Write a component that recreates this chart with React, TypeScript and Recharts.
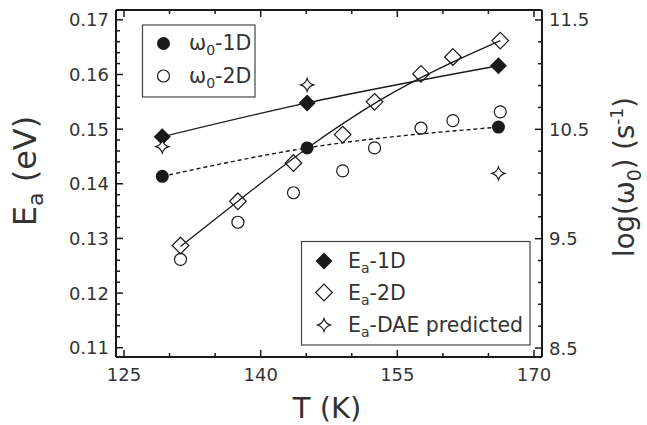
import React from 'react'
import { ComposedChart, Line, XAxis, YAxis, Customized } from 'recharts'

// temperatures (K)
const temps1D = [129.2, 145.1, 166.1]
const temps2D = [131.2, 137.5, 143.6, 149.0, 152.5, 157.6, 161.1, 166.3]
// Ea (eV)
const ea1D = [0.1486, 0.1548, 0.1616]
const ea2D = [0.1287, 0.1368, 0.1438, 0.149, 0.155, 0.1601, 0.1632, 0.1662]
const eaDAE = [0.1468, 0.1581, 0.1419]
// log(w0) (s^-1)
const w1D = [10.07, 10.33, 10.52]
const w2D = [9.31, 9.65, 9.92, 10.12, 10.33, 10.51, 10.58, 10.66]
// fit curve through the 2D activation energies
const fitTemps2D = [131.2, 137.5, 145.1, 153.1, 166.3]
const fitEa2D = [0.1285, 0.1368, 0.1465, 0.1553, 0.1662]

// axis ticks
const xTicks = [125, 130, 135, 140, 145, 150, 155, 160, 165, 170]
const xLabels = [125, 140, 155, 170]
const eaTicks = Array.from({ length: 31 }, (_, i) => +(0.11 + i * 0.002).toFixed(3))
const wTicks = Array.from({ length: 16 }, (_, i) => +(8.5 + i * 0.2).toFixed(1))
const wLabels = ['8.5', '9.5', '10.5', '11.5']

const rows1D = temps1D.map((T, i) => ({ T, ea: ea1D[i], w: w1D[i], dae: eaDAE[i] }))
const rows2D = temps2D.map((T, i) => ({ T, ea: ea2D[i], w: w2D[i] }))
const rowsFit2D = fitTemps2D.map((T, i) => ({ T, ea: fitEa2D[i] }))

const FONT = 'DejaVu Sans'
const INK = '#1a1a1a'
const TXT = '#333'

const diamond = (cx: number, cy: number, r: number) =>
  `M${cx},${cy - r}L${cx + r},${cy}L${cx},${cy + r}L${cx - r},${cy}Z`

const star = (cx: number, cy: number, r: number) => {
  const k = 1.4
  return `M${cx},${cy - r}Q${cx + k},${cy - k} ${cx + r},${cy}Q${cx + k},${cy + k} ${cx},${cy + r}` +
    `Q${cx - k},${cy + k} ${cx - r},${cy}Q${cx - k},${cy - k} ${cx},${cy - r}Z`
}

const FilledCircle = (p: any) => <circle key={p.index} cx={p.cx} cy={p.cy} r={6.5} fill={INK} />
const OpenCircle = (p: any) => (
  <circle key={p.index} cx={p.cx} cy={p.cy} r={6} fill="none" stroke={INK} strokeWidth={1.2} />
)
const FilledDiamond = (p: any) => <path key={p.index} d={diamond(p.cx, p.cy, 8.5)} fill={INK} />
const OpenDiamond = (p: any) => (
  <path key={p.index} d={diamond(p.cx, p.cy, 8.3)} fill="none" stroke={INK} strokeWidth={1.2} />
)
const Star = (p: any) => (
  <path key={p.index} d={star(p.cx, p.cy, 6.5)} fill="#fff" stroke={INK} strokeWidth={1.1} />
)

const isOn = (v: number, step: number) => Math.abs(v / step - Math.round(v / step)) < 1e-6

const BottomTick = (p: any) => {
  const v = p.payload.value
  const major = xLabels.includes(v)
  return (
    <g>
      <line x1={p.x} x2={p.x} y1={p.y} y2={p.y - (major ? 7 : 4)} stroke={INK} strokeWidth={1.5} />
      {major && (
        <text x={p.x} y={p.y + 24} textAnchor="middle" fontFamily={FONT} fontSize={18} fill={TXT}>
          {v}
        </text>
      )}
    </g>
  )
}

const TopTick = (p: any) => {
  const major = xLabels.includes(p.payload.value)
  return <line x1={p.x} x2={p.x} y1={p.y} y2={p.y + (major ? 7 : 4)} stroke={INK} strokeWidth={1.5} />
}

const LeftTick = (p: any) => {
  const v = p.payload.value
  const major = isOn(v, 0.01)
  return (
    <g>
      <line x1={p.x} x2={p.x + (major ? 7 : 4)} y1={p.y} y2={p.y} stroke={INK} strokeWidth={1.5} />
      {major && (
        <text x={p.x - 7} y={p.y + 6.5} textAnchor="end" fontFamily={FONT} fontSize={18} fill={TXT}>
          {v.toFixed(2)}
        </text>
      )}
    </g>
  )
}

const RightTick = (p: any) => {
  const v = p.payload.value
  const major = wLabels.includes(v.toFixed(1)) && isOn(v - 0.5, 1)
  return (
    <g>
      <line x1={p.x} x2={p.x - (major ? 7 : 4)} y1={p.y} y2={p.y} stroke={INK} strokeWidth={1.5} />
      {major && (
        <text x={p.x + 7} y={p.y + 6.5} textAnchor="start" fontFamily={FONT} fontSize={18} fill={TXT}>
          {v.toFixed(1)}
        </text>
      )}
    </g>
  )
}

const Overlay = () => (
  <g fontFamily={FONT} fill={TXT}>
    {/* omega legend */}
    <rect x={142.5} y={25} width={112.5} height={72} fill="#fff" stroke="#444" strokeWidth={1.2} />
    <circle cx={163.5} cy={43.5} r={6.5} fill={INK} />
    <text x={189} y={50} fontSize={20.5}>
      ω<tspan fontSize={14} dy={5}>0</tspan><tspan dy={-5}>-1D</tspan>
    </text>
    <circle cx={163.5} cy={76} r={6} fill="none" stroke={INK} strokeWidth={1.2} />
    <text x={189} y={82.5} fontSize={20.5}>
      ω<tspan fontSize={14} dy={5}>0</tspan><tspan dy={-5}>-2D</tspan>
    </text>

    {/* Ea legend */}
    <rect x={301.5} y={241.5} width={228.5} height={103.5} fill="#fff" stroke="#444" strokeWidth={1.2} />
    <path d={diamond(324, 261, 8.5)} fill={INK} />
    <text x={348} y={268} fontSize={20.5}>
      E<tspan fontSize={14} dy={5}>a</tspan><tspan dy={-5}>-1D</tspan>
    </text>
    <path d={diamond(324, 292.5, 8.3)} fill="none" stroke={INK} strokeWidth={1.2} />
    <text x={348} y={299.5} fontSize={20.5}>
      E<tspan fontSize={14} dy={5}>a</tspan><tspan dy={-5}>-2D</tspan>
    </text>
    <path d={star(324, 325, 6.5)} fill="#fff" stroke={INK} strokeWidth={1.1} />
    <text x={348} y={332} fontSize={20.5}>
      E<tspan fontSize={14} dy={5}>a</tspan><tspan dy={-5}>-DAE predicted</tspan>
    </text>

    {/* axis titles */}
    <text x={327} y={418} textAnchor="middle" fontSize={29}>T (K)</text>
    <text x={36} y={171} textAnchor="middle" fontSize={32} transform="rotate(-90 36 171)">
      E<tspan fontSize={22} dy={7}>a</tspan><tspan dy={-7}> (eV)</tspan>
    </text>
    <text x={634} y={177} textAnchor="middle" fontSize={27.5} transform="rotate(-90 634 177)">
      log(ω<tspan fontSize={19} dy={7}>0</tspan><tspan dy={-7}>) (s</tspan>
      <tspan fontSize={17} dy={-11}>-1</tspan><tspan dy={11}>)</tspan>
    </text>
  </g>
)

const axisLine = { stroke: INK, strokeWidth: 2 }

export default function App() {
  return (
    <div style={{ position: 'absolute', left: 0, top: 0, background: '#fff' }}>
      <ComposedChart
        width={647}
        height={425}
        margin={{ top: 9, right: 104, bottom: 67, left: 115 }}
      >
        <XAxis
          xAxisId="bottom"
          dataKey="T"
          type="number"
          domain={[124.12, 170.88]}
          allowDataOverflow
          ticks={xTicks}
          interval={0}
          height={1}
          tickSize={0}
          tickMargin={0}
          axisLine={axisLine}
          tickLine={false}
          tick={BottomTick}
        />
        <XAxis
          xAxisId="top"
          orientation="top"
          dataKey="T"
          type="number"
          domain={[124.12, 170.88]}
          allowDataOverflow
          ticks={xTicks}
          interval={0}
          height={1}
          tickSize={0}
          tickMargin={0}
          axisLine={axisLine}
          tickLine={false}
          tick={TopTick}
        />
        <YAxis
          yAxisId="left"
          type="number"
          domain={[0.1083, 0.1718]}
          allowDataOverflow
          ticks={eaTicks}
          interval={0}
          width={1}
          tickSize={0}
          tickMargin={0}
          axisLine={axisLine}
          tickLine={false}
          tick={LeftTick}
        />
        <YAxis
          yAxisId="right"
          orientation="right"
          type="number"
          domain={[8.418, 11.591]}
          allowDataOverflow
          ticks={wTicks}
          interval={0}
          width={1}
          tickSize={0}
          tickMargin={0}
          axisLine={axisLine}
          tickLine={false}
          tick={RightTick}
        />

        {/* fit curves */}
        <Line xAxisId="bottom" yAxisId="left" data={rows1D} dataKey="ea" type="monotone"
          stroke={INK} strokeWidth={1.3} dot={false} activeDot={false} isAnimationActive={false} />
        <Line xAxisId="bottom" yAxisId="left" data={rowsFit2D} dataKey="ea" type="monotone"
          stroke={INK} strokeWidth={1.3} dot={false} activeDot={false} isAnimationActive={false} />
        <Line xAxisId="bottom" yAxisId="right" data={rows1D} dataKey="w" type="monotone"
          stroke={INK} strokeWidth={1.4} strokeDasharray="4 3" dot={false} activeDot={false}
          isAnimationActive={false} />

        {/* markers */}
        <Line xAxisId="bottom" yAxisId="right" data={rows2D} dataKey="w" stroke="none"
          dot={OpenCircle} activeDot={false} isAnimationActive={false} />
        <Line xAxisId="bottom" yAxisId="right" data={rows1D} dataKey="w" stroke="none"
          dot={FilledCircle} activeDot={false} isAnimationActive={false} />
        <Line xAxisId="bottom" yAxisId="left" data={rows2D} dataKey="ea" stroke="none"
          dot={OpenDiamond} activeDot={false} isAnimationActive={false} />
        <Line xAxisId="bottom" yAxisId="left" data={rows1D} dataKey="ea" stroke="none"
          dot={FilledDiamond} activeDot={false} isAnimationActive={false} />
        <Line xAxisId="bottom" yAxisId="left" data={rows1D} dataKey="dae" stroke="none"
          dot={Star} activeDot={false} isAnimationActive={false} />

        <Customized component={Overlay} />
      </ComposedChart>
    </div>
  )
}
